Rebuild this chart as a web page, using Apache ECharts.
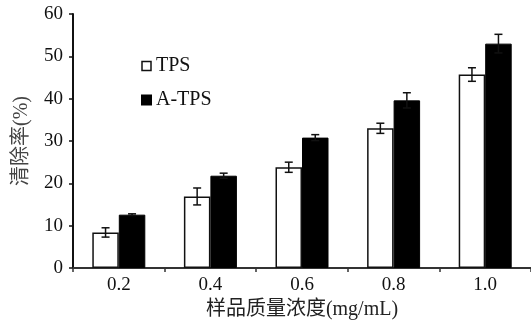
<!DOCTYPE html>
<html><head><meta charset="utf-8">
<script src="https://cdn.jsdelivr.net/npm/echarts@6/dist/echarts.min.js"></script>
<style>html,body{margin:0;padding:0;background:#fff}#c{width:531px;height:322px}</style>
</head><body><div id="c"></div>
<script>
var categories = ['0.2', '0.4', '0.6', '0.8', '1.0'];
var tpsValues = [8.4, 16.9, 23.8, 33.0, 45.7];
var tpsErrors = [1.1, 2.0, 1.2, 1.2, 1.6];
var atpsValues = [12.6, 21.8, 30.8, 39.6, 53.0];
var atpsErrors = [0.2, 0.6, 0.7, 1.8, 2.2];
var yTicks = [0, 10, 20, 30, 40, 50, 60];

var BW = 26.5;
var serif = '"Liberation Serif", "Noto Sans CJK SC", serif';
var chart = echarts.init(document.getElementById('c'));

function errData(vals, errs) {
  return vals.map(function (v, i) { return [i, v, errs[i]]; });
}
function errRender(offset) {
  return function (params, api) {
    var i = api.value(0), v = api.value(1), e = api.value(2);
    var top = api.coord([i, v + e]);
    var bot = api.coord([i, v - e]);
    var x = top[0] + offset;
    var cap = 4;
    var st = { stroke: '#111', lineWidth: 1.5 };
    return { type: 'group', children: [
      { type: 'line', shape: { x1: x, y1: top[1], x2: x, y2: bot[1] }, style: st },
      { type: 'line', shape: { x1: x - cap, y1: top[1], x2: x + cap, y2: top[1] }, style: st },
      { type: 'line', shape: { x1: x - cap, y1: bot[1], x2: x + cap, y2: bot[1] }, style: st }
    ] };
  };
}

chart.setOption({
  animation: false,
  textStyle: { fontFamily: serif },
  grid: { left: 73, right: 0, top: 14, bottom: 54, outerBoundsMode: 'none', containLabel: false },
  legend: {
    orient: 'vertical', left: 136, top: 51, itemGap: 14,
    icon: 'rect', itemWidth: 9, itemHeight: 9,
    textStyle: { fontFamily: serif, fontSize: 20, color: '#111' },
    data: [
      { name: 'TPS', itemStyle: { color: '#fff', borderColor: '#111', borderWidth: 1.5 } },
      { name: 'A-TPS', itemStyle: { color: '#000', borderColor: '#000' } }
    ]
  },
  xAxis: {
    type: 'category', data: categories,
    name: '样品质量浓度(mg/mL)', nameLocation: 'middle', nameGap: 31,
    nameTextStyle: { fontFamily: serif, fontSize: 20, color: '#222' },
    axisLine: { lineStyle: { color: '#333', width: 2 } },
    axisTick: { show: true, length: 4, inside: false, alignWithLabel: false, lineStyle: { color: '#333', width: 1.5 } },
    axisLabel: { fontFamily: serif, fontSize: 19, color: '#111', margin: 8 },
    splitLine: { show: false }
  },
  yAxis: {
    type: 'value', min: 0, max: 60, interval: 10,
    name: '清除率(%)', nameLocation: 'middle', nameGap: 41, nameRotate: 90,
    nameTextStyle: { fontFamily: serif, fontSize: 20, color: '#444' },
    axisLine: { show: true, lineStyle: { color: '#111', width: 2 } },
    axisTick: { show: true, length: 4, lineStyle: { color: '#111', width: 1.5 } },
    axisLabel: { fontFamily: serif, fontSize: 19, color: '#111', margin: 10,
      formatter: function (v) { return yTicks.indexOf(v) >= 0 ? String(v) : ''; } },
    splitLine: { show: false }
  },
  series: [
    { name: 'TPS', type: 'bar', data: tpsValues, barWidth: BW, barGap: '0%',
      itemStyle: { color: '#fff', borderColor: '#111', borderWidth: 1.5 } },
    { name: 'A-TPS', type: 'bar', data: atpsValues, barWidth: BW, barGap: '0%',
      itemStyle: { color: '#000', borderColor: '#000', borderWidth: 1 } },
    { name: 'TPS-err', type: 'custom', data: errData(tpsValues, tpsErrors),
      renderItem: errRender(-BW / 2), z: 5, encode: { x: 0, y: 1 } },
    { name: 'A-TPS-err', type: 'custom', data: errData(atpsValues, atpsErrors),
      renderItem: errRender(BW / 2), z: 5, encode: { x: 0, y: 1 } }
  ]
});
</script></body></html>
